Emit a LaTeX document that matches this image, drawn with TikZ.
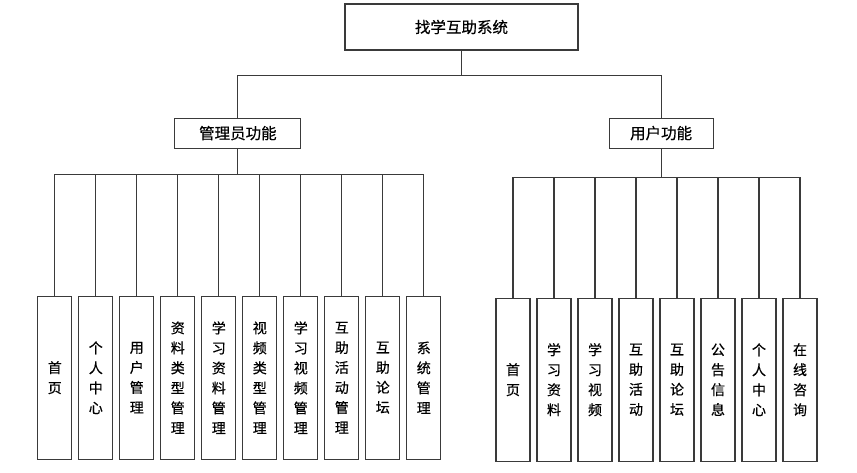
\documentclass[tikz,border=0pt]{standalone}
\usepackage{fontspec}
\setmainfont[FakeBold=0.5]{Noto Sans CJK SC}
\usepackage{xcolor}
\usepackage{tikz}
\usetikzlibrary{positioning}
\definecolor{linegray}{HTML}{3A3A3A}
\tikzset{
  topbox/.style={rectangle,draw=linegray,line width=1.1pt,fill=white,
    minimum width=233pt,minimum height=46pt,font=\fontsize{15.5}{18}\selectfont},
  midbox/.style={rectangle,draw=linegray,line width=1.1pt,fill=white,
    minimum width=#1,minimum height=30pt,font=\fontsize{15.5}{18}\selectfont},
  midbox/.default=120pt,
  leafbox/.style={rectangle,draw=linegray,line width=1.1pt,fill=white,inner sep=0pt,
    minimum width=34pt,minimum height=163pt,align=center,font=\fontsize{14}{20}\selectfont},
  link/.style={draw=linegray,line width=1.1pt}
}
\begin{document}
\begin{tikzpicture}[x=1pt,y=1pt,node distance=5.9pt]
\useasboundingbox[fill=white] (0,0) rectangle (857,-473);
\node[topbox] (root) at (461.5,-27) {找学互助系统};
\node[midbox=126pt,below left=67pt and 43pt of root] (adm) {管理员功能};
\node[midbox=104pt,below right=67pt and 30pt of root] (usr) {用户功能};
% admin leaves
\node[leafbox,below left=147pt and 102pt of adm] (a1) {首\\页};
\node[leafbox,right=of a1] (a2) {个\\人\\中\\心};
\node[leafbox,right=of a2] (a3) {用\\户\\管\\理};
\node[leafbox,right=of a3] (a4) {资\\料\\类\\型\\管\\理};
\node[leafbox,right=of a4] (a5) {学\\习\\资\\料\\管\\理};
\node[leafbox,right=of a5] (a6) {视\\频\\类\\型\\管\\理};
\node[leafbox,right=of a6] (a7) {学\\习\\视\\频\\管\\理};
\node[leafbox,right=of a7] (a8) {互\\助\\活\\动\\管\\理};
\node[leafbox,right=of a8] (a9) {互\\助\\论\\坛};
\node[leafbox,right=of a9] (a10) {系\\统\\管\\理};
% user leaves
\node[leafbox,below left=149pt and 78pt of usr] (u1) {首\\页};
\node[leafbox,right=of u1] (u2) {学\\习\\资\\料};
\node[leafbox,right=of u2] (u3) {学\\习\\视\\频};
\node[leafbox,right=of u3] (u4) {互\\助\\活\\动};
\node[leafbox,right=of u4] (u5) {互\\助\\论\\坛};
\node[leafbox,right=of u5] (u6) {公\\告\\信\\息};
\node[leafbox,right=of u6] (u7) {个\\人\\中\\心};
\node[leafbox,right=of u7] (u8) {在\\线\\咨\\询};
% connectors
\draw[link] (root.south) -- ++(0,-25) -| (adm.north);
\draw[link] (root.south) -- ++(0,-25) -| (usr.north);
\draw[link] (adm.south) -- ++(0,-26) -| (a1.north);
\draw[link] (adm.south) -- ++(0,-26) -| (a2.north);
\draw[link] (adm.south) -- ++(0,-26) -| (a3.north);
\draw[link] (adm.south) -- ++(0,-26) -| (a4.north);
\draw[link] (adm.south) -- ++(0,-26) -| (a5.north);
\draw[link] (adm.south) -- ++(0,-26) -| (a6.north);
\draw[link] (adm.south) -- ++(0,-26) -| (a7.north);
\draw[link] (adm.south) -- ++(0,-26) -| (a8.north);
\draw[link] (adm.south) -- ++(0,-26) -| (a9.north);
\draw[link] (adm.south) -- ++(0,-26) -| (a10.north);
\draw[link] (usr.south) -- ++(0,-29) -| (u1.north);
\draw[link] (usr.south) -- ++(0,-29) -| (u2.north);
\draw[link] (usr.south) -- ++(0,-29) -| (u3.north);
\draw[link] (usr.south) -- ++(0,-29) -| (u4.north);
\draw[link] (usr.south) -- ++(0,-29) -| (u5.north);
\draw[link] (usr.south) -- ++(0,-29) -| (u6.north);
\draw[link] (usr.south) -- ++(0,-29) -| (u7.north);
\draw[link] (usr.south) -- ++(0,-29) -| (u8.north);
\end{tikzpicture}
\end{document}
